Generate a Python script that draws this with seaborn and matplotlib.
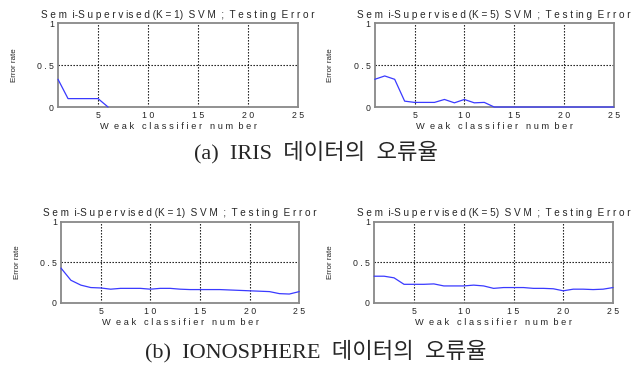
import numpy as np
import pandas as pd
import matplotlib
matplotlib.use('Agg')
import matplotlib.pyplot as plt
import seaborn as sns

# Dữ liệu
x_iris_k1 = [1, 2, 3, 4, 5, 6]
err_iris_k1 = [0.33, 0.10, 0.10, 0.10, 0.10, 0.0]

x_all = list(range(1, 26))
err_iris_k5 = [0.33, 0.37, 0.33, 0.07, 0.055, 0.055, 0.055, 0.09, 0.05, 0.09,
               0.05, 0.055, 0.0, 0.0, 0.0, 0.0, 0.0, 0.0, 0.0, 0.0,
               0.0, 0.0, 0.0, 0.0, 0.0]
err_iono_k1 = [0.43, 0.28, 0.22, 0.19, 0.185, 0.17, 0.18, 0.18, 0.18, 0.17,
               0.18, 0.18, 0.17, 0.165, 0.165, 0.165, 0.165, 0.16, 0.155, 0.15,
               0.145, 0.14, 0.115, 0.11, 0.14]
err_iono_k5 = [0.33, 0.33, 0.31, 0.23, 0.23, 0.23, 0.235, 0.21, 0.21, 0.21,
               0.22, 0.21, 0.18, 0.19, 0.19, 0.19, 0.18, 0.18, 0.175, 0.15,
               0.17, 0.17, 0.165, 0.17, 0.19]

tieu_de = ['S e m  i-S u p e r v is e d (K = 1)  S V M  ;  T e s t in g  E r r o r',
           'S e m  i-S u p e r v is e d (K = 5)  S V M  ;  T e s t in g  E r r o r']
nhan_x = 'W  e a k   c l a s s i f i e r   n u m  b e r'
nhan_y = 'Error rate'
chu_thich = ['(a)  IRIS  데이터의  오류율', '(b)  IONOSPHERE  데이터의  오류율']

sns.set_style('white')
plt.rcParams['font.family'] = ['Liberation Sans', 'DejaVu Sans']

fig = plt.figure(figsize=(6.32, 3.65), dpi=100)

vi_tri = [
    [0.0918, 0.7068, 0.380, 0.230],
    [0.593, 0.7068, 0.378, 0.230],
    [0.0965, 0.170, 0.377, 0.222],
    [0.592, 0.170, 0.378, 0.222],
]
du_lieu = [
    (x_iris_k1, err_iris_k1, tieu_de[0]),
    (x_all, err_iris_k5, tieu_de[1]),
    (x_all, err_iono_k1, tieu_de[0]),
    (x_all, err_iono_k5, tieu_de[1]),
]

for pos, (xs, ys, td) in zip(vi_tri, du_lieu):
    ax = fig.add_axes(pos)
    df = pd.DataFrame({'x': xs, 'y': ys})
    sns.lineplot(data=df, x='x', y='y', ax=ax, color='#3a3aff', linewidth=0.9)
    ax.set_xlim(1, 25)
    ax.set_ylim(0, 1)
    ax.set_xticks([5, 10, 15, 20, 25])
    ax.set_xticklabels(['5', '1 0', '1 5', '2 0', '2 5'])
    ax.set_yticks([0, 0.5, 1])
    ax.set_yticklabels(['0', '0 . 5', '1'])
    ax.tick_params(length=0, labelsize=6.3, pad=3)
    for v in [5, 10, 15, 20]:
        ax.axvline(v, color='black', linestyle=(0, (1.2, 1.5)), linewidth=0.8, zorder=0)
    ax.axhline(0.5, color='black', linestyle=(0, (1.2, 1.5)), linewidth=0.8, zorder=0)
    for s in ax.spines.values():
        s.set_color('#888888')
        s.set_linewidth(1.3)
    # đường vẽ nằm trên trục (giống hình gốc)
    for ln in ax.lines[:1]:
        ln.set_zorder(5)
        ln.set_clip_on(False)
    ax.set_title(td, fontsize=7.2, pad=4)
    ax.set_xlabel(nhan_x, fontsize=6.7, labelpad=1)
    ax.set_ylabel(nhan_y, fontsize=5.8, labelpad=14)

fig.text(0.5, 0.583, chu_thich[0], ha='center', va='center', fontsize=16,
         family=['Liberation Serif', 'Noto Sans CJK KR'])
fig.text(0.5, 0.038, chu_thich[1], ha='center', va='center', fontsize=16,
         family=['Liberation Serif', 'Noto Sans CJK KR'])

plt.savefig('out.png', dpi=100)
